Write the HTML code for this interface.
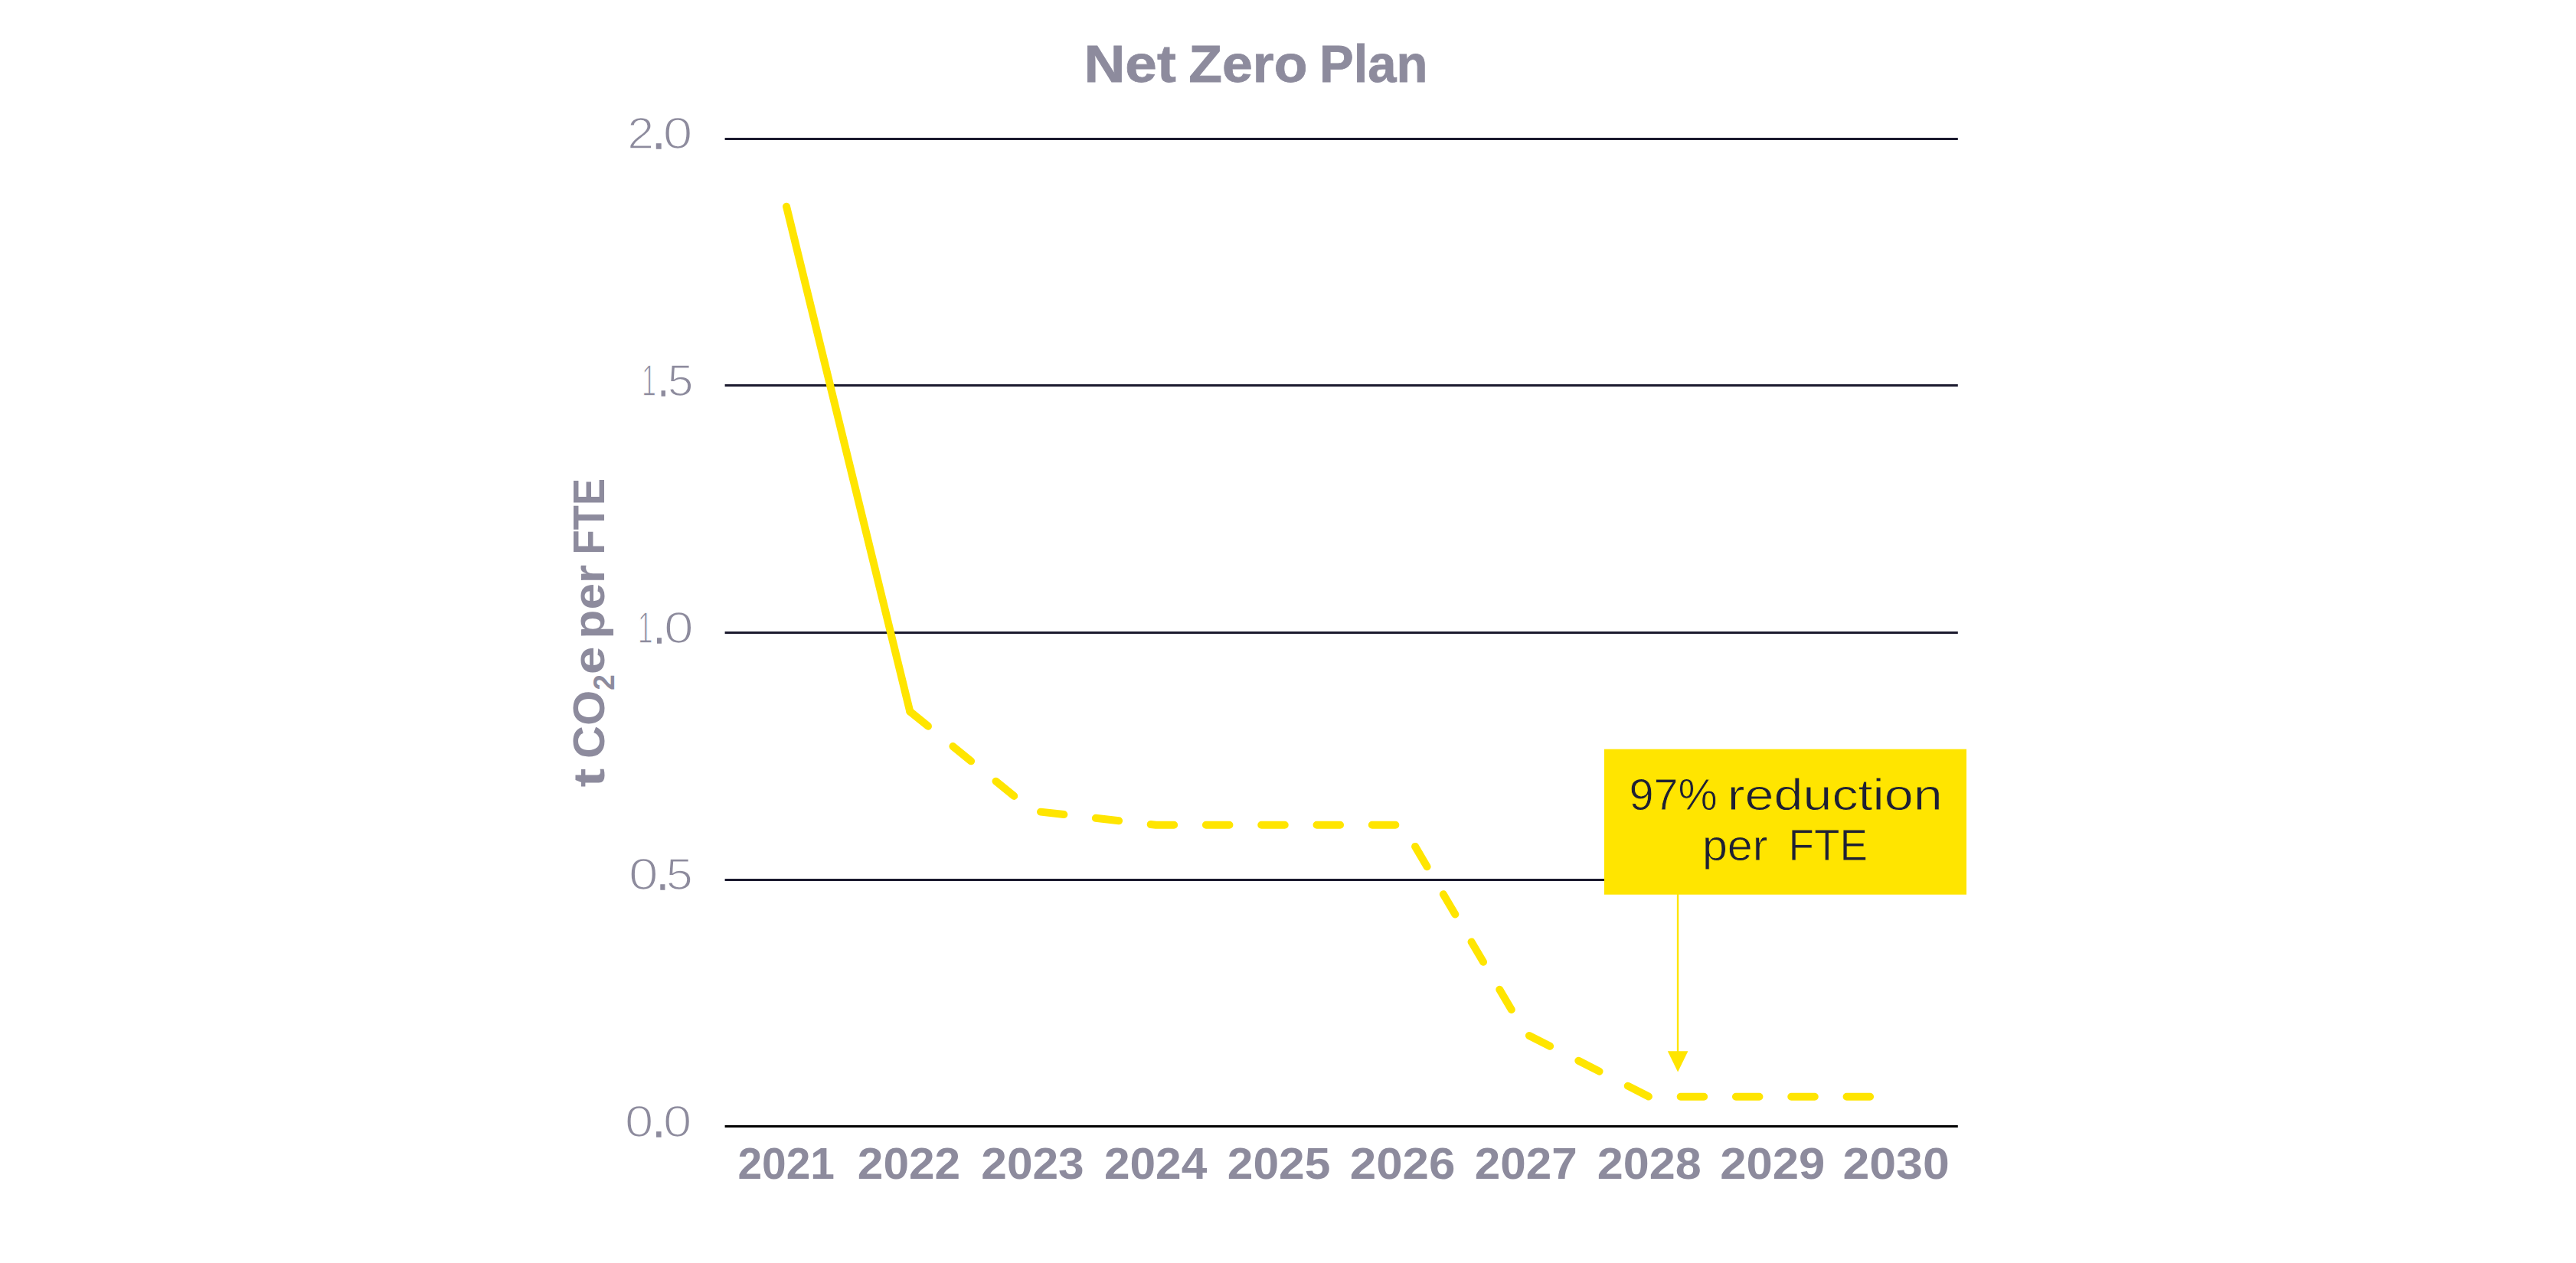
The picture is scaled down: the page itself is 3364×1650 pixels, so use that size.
<!DOCTYPE html>
<html lang="en">
<head>
<meta charset="utf-8">
<title>Net Zero Plan</title>
<style>
  html, body { margin: 0; padding: 0; background: #ffffff; }
  body { width: 3364px; height: 1650px; overflow: hidden; }
  svg { display: block; position: absolute; left: 0; top: 0; }
  text { font-family: "Liberation Sans", sans-serif; }
  .title { font-weight: 700; font-size: 68px; fill: #8d8b9d; stroke: #8d8b9d; stroke-width: 0.8px; }
  .ytick { font-weight: 400; font-size: 58px; fill: #8d8b9d; text-anchor: start; stroke: #ffffff; stroke-width: 1.6px; }
  .xtick { font-weight: 700; font-size: 57px; fill: #8d8b9d; text-anchor: start; }
  .ylabel { font-weight: 700; font-size: 57px; fill: #8d8b9d; }
  .callout { font-weight: 400; font-size: 58px; fill: #1e2033; text-anchor: start; stroke: #ffe500; stroke-width: 0.8px; }
  .grid { fill: #1b1a2e; }
  .axis { fill: #000000; }
  .yl { stroke: #ffe500; fill: none; stroke-width: 10; stroke-linecap: round; stroke-linejoin: round; }
</style>
</head>
<body>
<svg width="3364" height="1650" viewBox="0 0 3364 1650">
  <rect x="0" y="0" width="3364" height="1650" fill="#ffffff"/>

  <!-- title -->
  <text class="title" y="106.6"><tspan x="1415.44" textLength="120.33" lengthAdjust="spacingAndGlyphs">Net</tspan> <tspan x="1552.31" textLength="155.16" lengthAdjust="spacingAndGlyphs">Zero</tspan> <tspan x="1722.96" textLength="141.52" lengthAdjust="spacingAndGlyphs">Plan</tspan></text>

  <!-- gridlines -->
  <rect class="grid" x="946.6" y="180" width="1610.2" height="3"/>
  <rect class="grid" x="946.6" y="502" width="1610.2" height="3"/>
  <rect class="grid" x="946.6" y="825" width="1610.2" height="3"/>
  <rect class="grid" x="946.6" y="1148" width="1610.2" height="3"/>
  <rect class="axis" x="946.6" y="1470" width="1610.2" height="3"/>

  <!-- y tick labels -->
  <text class="ytick" y="194.2"><tspan x="819.22" textLength="34.88" lengthAdjust="spacingAndGlyphs">2</tspan><tspan x="852.18" textLength="15.94" lengthAdjust="spacingAndGlyphs" stroke="#8d8b9d" stroke-width="1.4">.</tspan><tspan x="865.73" textLength="38.64" lengthAdjust="spacingAndGlyphs">0</tspan></text>
  <text class="ytick" y="517.0"><tspan x="837.91" textLength="18.99" lengthAdjust="spacingAndGlyphs">1</tspan><tspan x="859.93" textLength="12.47" lengthAdjust="spacingAndGlyphs" stroke="#8d8b9d" stroke-width="1.4">.</tspan><tspan x="871.86" textLength="33.68" lengthAdjust="spacingAndGlyphs">5</tspan></text>
  <text class="ytick" y="839.8"><tspan x="832.73" textLength="19.89" lengthAdjust="spacingAndGlyphs">1</tspan><tspan x="853.94" textLength="13.86" lengthAdjust="spacingAndGlyphs" stroke="#8d8b9d" stroke-width="1.4">.</tspan><tspan x="866.99" textLength="38.71" lengthAdjust="spacingAndGlyphs">0</tspan></text>
  <text class="ytick" y="1162.3"><tspan x="820.99" textLength="38.63" lengthAdjust="spacingAndGlyphs">0</tspan><tspan x="858.33" textLength="14.23" lengthAdjust="spacingAndGlyphs" stroke="#8d8b9d" stroke-width="1.4">.</tspan><tspan x="869.75" textLength="34.98" lengthAdjust="spacingAndGlyphs">5</tspan></text>
  <text class="ytick" y="1484.9"><tspan x="816.04" textLength="37.33" lengthAdjust="spacingAndGlyphs">0</tspan><tspan x="852.64" textLength="15.10" lengthAdjust="spacingAndGlyphs" stroke="#8d8b9d" stroke-width="1.4">.</tspan><tspan x="866.14" textLength="37.35" lengthAdjust="spacingAndGlyphs">0</tspan></text>

  <!-- y axis label -->
  <g transform="translate(789.0,1028.8) rotate(-90)">
    <text class="ylabel" y="0"><tspan x="0.19" textLength="24.79" lengthAdjust="spacingAndGlyphs">t</tspan> <tspan x="37.90" textLength="89.23" lengthAdjust="spacingAndGlyphs">CO</tspan><tspan x="127.02" textLength="20.54" lengthAdjust="spacingAndGlyphs" font-size="39" dy="13">2</tspan><tspan x="147.74" textLength="36.56" lengthAdjust="spacingAndGlyphs" dy="-13">e</tspan> <tspan x="194.29" textLength="96.55" lengthAdjust="spacingAndGlyphs">per</tspan> <tspan x="304.40" textLength="99.41" lengthAdjust="spacingAndGlyphs">FTE</tspan></text>
  </g>

  <!-- x tick labels -->
  <text class="xtick" y="1539.6"><tspan x="963.42" textLength="126.58" lengthAdjust="spacingAndGlyphs">2021</tspan></text>
  <text class="xtick" y="1539.6"><tspan x="1119.79" textLength="134.41" lengthAdjust="spacingAndGlyphs">2022</tspan></text>
  <text class="xtick" y="1539.6"><tspan x="1281.30" textLength="134.39" lengthAdjust="spacingAndGlyphs">2023</tspan></text>
  <text class="xtick" y="1539.6"><tspan x="1441.90" textLength="134.42" lengthAdjust="spacingAndGlyphs">2024</tspan></text>
  <text class="xtick" y="1539.6"><tspan x="1602.79" textLength="134.61" lengthAdjust="spacingAndGlyphs">2025</tspan></text>
  <text class="xtick" y="1539.6"><tspan x="1762.76" textLength="137.70" lengthAdjust="spacingAndGlyphs">2026</tspan></text>
  <text class="xtick" y="1539.6"><tspan x="1925.79" textLength="134.00" lengthAdjust="spacingAndGlyphs">2027</tspan></text>
  <text class="xtick" y="1539.6"><tspan x="2085.78" textLength="136.03" lengthAdjust="spacingAndGlyphs">2028</tspan></text>
  <text class="xtick" y="1539.6"><tspan x="2246.16" textLength="137.07" lengthAdjust="spacingAndGlyphs">2029</tspan></text>
  <text class="xtick" y="1539.6"><tspan x="2406.44" textLength="139.35" lengthAdjust="spacingAndGlyphs">2030</tspan></text>

  <!-- data: solid (actual) -->
  <polyline class="yl" points="1027,269.8 1188.3,929.5"/>
  <!-- data: dashed (plan) -->
  <polyline class="yl" stroke-dasharray="30.5 41.8"
    points="1188.3,929.5 1348.2,1059.4 1509.5,1077.8 1831.5,1077.8 1992.5,1350.7 2153.5,1432.8 2475.5,1432.8"/>

  <!-- callout -->
  <rect x="2094.9" y="978.7" width="473.1" height="190" fill="#ffe500"/>
  <rect x="2189.85" y="1168" width="2.4" height="210" fill="#ffe500"/>
  <polygon points="2177.8,1373.3 2204.4,1373.3 2191.1,1400.6" fill="#ffe500"/>
  <text class="callout" y="1057.6"><tspan x="2127.39" textLength="115.43" lengthAdjust="spacingAndGlyphs">97%</tspan> <tspan x="2255.89" textLength="280.82" lengthAdjust="spacingAndGlyphs">reduction</tspan></text>
  <text class="callout" y="1123.9"><tspan x="2222.93" textLength="85.54" lengthAdjust="spacingAndGlyphs">per</tspan> <tspan x="2335.58" textLength="103.57" lengthAdjust="spacingAndGlyphs">FTE</tspan></text>
</svg>
</body>
</html>
